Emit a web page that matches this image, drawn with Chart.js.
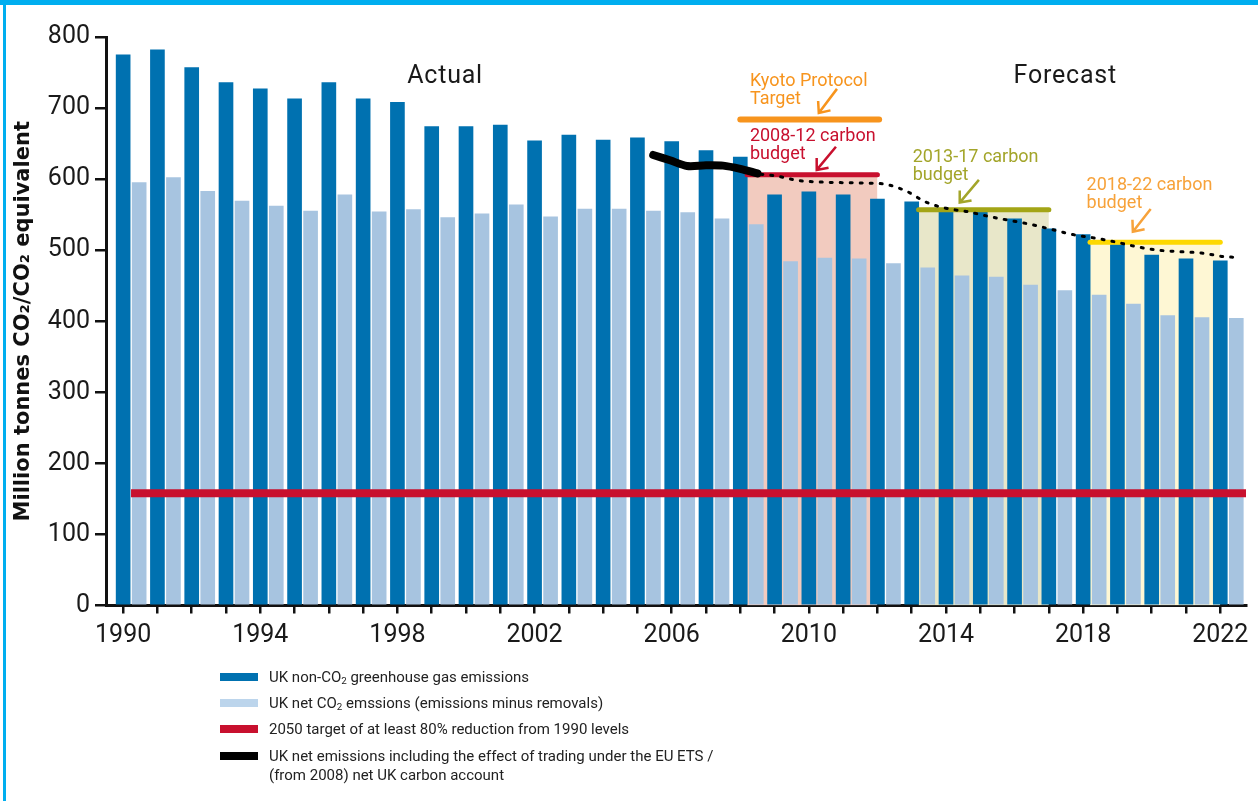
<!DOCTYPE html>
<html>
<head>
<meta charset="utf-8">
<title>UK emissions, targets and carbon budgets</title>
<script src="https://cdn.jsdelivr.net/npm/chart.js@4.4.1/dist/chart.umd.min.js"></script>
<style>
  html, body { margin: 0; padding: 0; background: #fff; }
  body { width: 1258px; height: 801px; position: relative; overflow: hidden; font-family: Roboto, "DejaVu Sans", sans-serif; }
  #frameTop { position: absolute; left: 0; top: 0; width: 1258px; height: 5px; background: #00aeef; }
  #frameLeft { position: absolute; left: 3px; top: 0; width: 3px; height: 801px; background: #00aeef; }
  #chart { position: absolute; left: 0; top: 0; }
  .item { position: absolute; left: 220px; font-size: 15px; color: #222; display: flex; align-items: flex-start; white-space: nowrap; }
  .swatch { width: 38px; height: 8px; margin-right: 11px; flex: none; }
  sub { font-size: 0.65em; vertical-align: -0.25em; line-height: 0; }
</style>
</head>
<body>
<div id="frameTop"></div>
<div id="frameLeft"></div>
<canvas id="chart" width="1258" height="665"></canvas>
<div id="legend"></div>

<script>
// Years on the axis (1990-2022), labels every 4 years
const years = [1990, 1991, 1992, 1993, 1994, 1995, 1996, 1997, 1998, 1999, 2000, 2001, 2002, 2003, 2004, 2005,
  2006, 2007, 2008, 2009, 2010, 2011, 2012, 2013, 2014, 2015, 2016, 2017, 2018, 2019, 2020, 2021, 2022];
const xTickLabels = [1990, 1994, 1998, 2002, 2006, 2010, 2014, 2018, 2022];
const yTickValues = [0, 100, 200, 300, 400, 500, 600, 700, 800];

// Bars (million tonnes)
const nonCo2 = [775, 782, 757, 736, 727, 713, 736, 713, 708, 674, 674, 676, 654, 662, 655, 658,
  653, 640, 631, 578, 582, 578, 572, 568, 555, 554, 544, 530, 522, 508, 493, 488, 485];
const netCo2 = [595, 602, 583, 569, 562, 555, 578, 554, 557, 546, 551, 564, 547, 558, 558, 555,
  553, 544, 536, 484, 489, 488, 481, 475, 464, 462, 451, 443, 437, 424, 408, 405, 404];

// 2050 target (80% below 1990)
const target2050 = 158;
const targetYears = [1990.23, 2022.75];

// UK net emissions incl. EU ETS trading (solid black)
const etsYears = [2005.46, 2005.95, 2006.45, 2007.0, 2007.5, 2008.0, 2008.5];
const etsValues = [634, 626.5, 618.5, 619.5, 619, 614.5, 608];

// Projected net carbon account (dotted)
const projYears = [2008.6, 2009.1, 2009.7, 2010.3, 2011.0, 2011.6, 2012.2, 2012.85, 2013.4, 2014.0, 2014.65,
  2015.3, 2016.5, 2017.1, 2017.7, 2018.35, 2018.9, 2019.55, 2020.2, 2020.8, 2021.45, 2022.1, 2022.42];
const projValues = [607, 604, 598, 596, 595, 594.5, 593, 583, 568, 559, 554,
  547, 536, 529, 522, 517, 512, 505, 500, 498, 496, 491, 490];

// Kyoto target and carbon budgets
const kyotoLevel = 684;
const kyotoYears = [2008.0, 2012.05];
const budgetLevels = [606, 557, 511];
const budgetStarts = [2008.2, 2013.2, 2018.2];
const budgetEnds = [2012.0, 2017.0, 2022.0];

const darkBlue = '#0071b0';
const lightBlue = '#a7c4e0';
const crimson = '#c8102e';
const budgetLineColors = [crimson, '#a3a516', '#fdd800'];
const budgetFillColors = ['#f2cbbf', '#e8e7c9', '#fef7d4'];

const LIGHT_SHIFT = 0.467; // light bar sits just right of the dark one

Chart.defaults.font.family = 'Roboto, "DejaVu Sans", sans-serif';
Chart.defaults.color = '#1a1a1a';

const datasets = [
  {
    type: 'bar', label: 'UK non-CO2 greenhouse gas emissions',
    data: years.map((yr, i) => ({ x: yr, y: nonCo2[i] })),
    backgroundColor: darkBlue, barThickness: 14, grouped: false, order: 10
  },
  {
    type: 'bar', label: 'UK net CO2 emssions',
    data: years.map((yr, i) => ({ x: yr + LIGHT_SHIFT, y: netCo2[i] })),
    backgroundColor: lightBlue, barThickness: 14, grouped: false, order: 11
  },
  {
    type: 'line', label: '2050 target',
    data: targetYears.map(yr => ({ x: yr, y: target2050 })),
    borderColor: crimson, borderWidth: 8, pointRadius: 0, fill: false, order: 3
  },
  {
    type: 'line', label: 'Kyoto Protocol Target',
    data: kyotoYears.map(yr => ({ x: yr, y: kyotoLevel })),
    borderColor: '#f7941d', borderWidth: 6, borderCapStyle: 'round', pointRadius: 0, fill: false, order: 2
  }
];

budgetLevels.forEach((lvl, i) => {
  datasets.push({
    type: 'line', label: 'budget ' + i,
    data: [{ x: budgetStarts[i], y: lvl }, { x: budgetEnds[i], y: lvl }],
    borderColor: budgetLineColors[i], borderWidth: 5, borderCapStyle: 'round',
    backgroundColor: budgetFillColors[i], fill: 'origin', pointRadius: 0, order: 2
  });
});

datasets.push({
  type: 'line', label: 'projection',
  data: projYears.map((yr, i) => ({ x: yr, y: projValues[i] })),
  borderColor: '#000', borderWidth: 3, borderDash: [2, 8], borderCapStyle: 'round',
  cubicInterpolationMode: 'monotone', pointRadius: 0, fill: false, order: 1
});
datasets.push({
  type: 'line', label: 'UK net emissions incl. EU ETS',
  data: etsYears.map((yr, i) => ({ x: yr, y: etsValues[i] })),
  borderColor: '#000', borderWidth: 8, borderCapStyle: 'round', borderJoinStyle: 'round',
  tension: 0.3, pointRadius: 0, fill: false, order: 0
});

// Text labels and arrows placed in data units
const periodLabels = [
  { text: 'Actual', year: 1999.39 },
  { text: 'Forecast', year: 2017.48 }
];
const periodLevel = 735.6;

const notes = [
  { lines: ['Kyoto Protocol', 'Target'], color: '#f7941d', year: 2008.28, level: 731, tail: [2010.82, 727], tip: [2010.29, 693] },
  { lines: ['2008-12 carbon', 'budget'], color: crimson, year: 2008.28, level: 653, tail: [2010.79, 645.5], tip: [2010.23, 613] },
  { lines: ['2013-17 carbon', 'budget'], color: '#a3a52a', year: 2013.03, level: 623.4, tail: [2014.96, 599], tip: [2014.4, 567] },
  { lines: ['2018-22 carbon', 'budget'], color: '#f7a23a', year: 2018.1, level: 585, tail: [2019.97, 558], tip: [2019.45, 526] }
];

const annotations = {
  id: 'annotations',
  afterDatasetsDraw(chart) {
    const { ctx, scales: { x, y } } = chart;
    ctx.save();
    ctx.textBaseline = 'alphabetic';
    ctx.font = '25px Roboto, "DejaVu Sans", sans-serif';
    ctx.fillStyle = '#1a1a1a';
    ctx.textAlign = 'center';
    ctx.letterSpacing = '0.8px';
    periodLabels.forEach(p => ctx.fillText(p.text, x.getPixelForValue(p.year), y.getPixelForValue(periodLevel)));
    ctx.letterSpacing = '0px';

    ctx.textAlign = 'left';
    ctx.font = '18px Roboto, "DejaVu Sans", sans-serif';
    notes.forEach(n => {
      const px = x.getPixelForValue(n.year);
      const py = y.getPixelForValue(n.level);
      ctx.fillStyle = n.color;
      n.lines.forEach((t, k) => ctx.fillText(t, px, py + k * 18));

      // arrow
      const tx = x.getPixelForValue(n.tail[0]), ty = y.getPixelForValue(n.tail[1]);
      const hx = x.getPixelForValue(n.tip[0]), hy = y.getPixelForValue(n.tip[1]);
      const ang = Math.atan2(ty - hy, tx - hx);
      const len = 12;
      ctx.strokeStyle = n.color;
      ctx.lineWidth = 2.5;
      ctx.lineCap = 'butt';
      ctx.beginPath();
      ctx.moveTo(tx, ty);
      ctx.lineTo(hx, hy);
      ctx.moveTo(hx + len * Math.cos(ang - 0.7), hy + len * Math.sin(ang - 0.7));
      ctx.lineTo(hx, hy);
      ctx.lineTo(hx + len * Math.cos(ang + 0.7), hy + len * Math.sin(ang + 0.7));
      ctx.stroke();
    });
    ctx.restore();
  }
};

new Chart(document.getElementById('chart'), {
  type: 'bar',
  data: { datasets: datasets },
  options: {
    responsive: false,
    animation: false,
    layout: { padding: { left: 6, top: 37, right: 12, bottom: 0 } },
    plugins: {
      legend: { display: false },
      tooltip: { enabled: false },
      filler: { drawTime: 'beforeDatasetsDraw' }
    },
    scales: {
      x: {
        type: 'linear',
        offset: false,
        min: 1989.5,
        max: 2022.75,
        afterFit: (scale) => { scale.height = 59.5; },
        grid: { offset: false, drawOnChartArea: false, drawTicks: true, tickLength: 8, color: '#111', lineWidth: 2.5 },
        border: { display: true, color: '#111', width: 3 },
        ticks: {
          stepSize: 1,
          includeBounds: false,
          autoSkip: false,
          maxRotation: 0,
          padding: 7,
          color: '#1a1a1a',
          font: { size: 25 },
          callback: (v) => xTickLabels.includes(v) ? String(v) : ''
        }
      },
      y: {
        min: 0,
        max: 800,
        afterFit: (scale) => { scale.width = 100; },
        grid: { drawOnChartArea: false, drawTicks: true, tickLength: 11, color: '#111', lineWidth: 2.5 },
        border: { display: true, color: '#111', width: 3 },
        ticks: {
          stepSize: 100,
          padding: 5,
          color: '#1a1a1a',
          font: { size: 25 },
          callback: (v) => yTickValues.includes(v) ? String(v) : ''
        },
        title: {
          display: true,
          text: 'Million tonnes CO\u2082/CO\u2082 equivalent',
          color: '#111',
          font: { family: '"DejaVu Sans", sans-serif', size: 21, weight: 'bold' },
          padding: { top: 5, bottom: 0 }
        }
      }
    }
  },
  plugins: [annotations]
});

// HTML legend
const legendItems = [
  { html: 'UK non-CO<sub>2</sub> greenhouse gas emissions', color: darkBlue, center: 677 },
  { html: 'UK net CO<sub>2</sub> emssions (emissions minus removals)', color: '#bcd5ec', center: 703 },
  { html: '2050 target of at least 80% reduction from 1990 levels', color: crimson, center: 729 },
  { html: 'UK net emissions including the effect of trading under the EU ETS /<br>(from 2008) net UK carbon account', color: '#000', center: 756, multi: true }
];
const legendEl = document.getElementById('legend');
legendItems.forEach(it => {
  const row = document.createElement('div');
  row.className = 'item';
  const lh = it.multi ? 19 : 26;
  row.style.top = (it.center - lh / 2) + 'px';
  row.style.lineHeight = lh + 'px';
  const sw = document.createElement('span');
  sw.className = 'swatch';
  sw.style.background = it.color;
  sw.style.marginTop = ((lh - 8) / 2) + 'px';
  const tx = document.createElement('span');
  tx.innerHTML = it.html;
  row.appendChild(sw);
  row.appendChild(tx);
  legendEl.appendChild(row);
});
</script>
</body>
</html>
